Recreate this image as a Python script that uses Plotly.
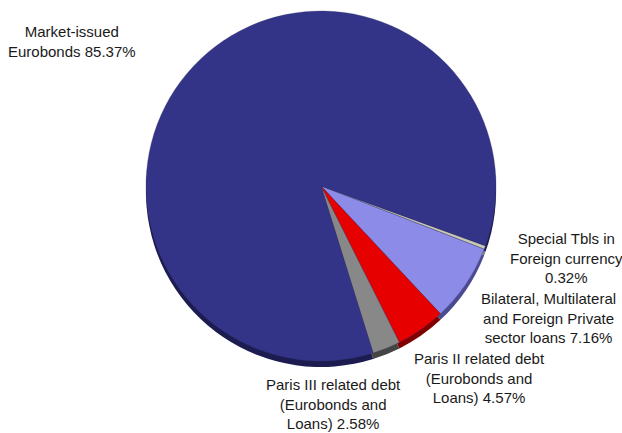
import plotly.graph_objects as go

labels = ["Special Tbls in Foreign currency",
          "Bilateral, Multilateral and Foreign Private sector loans",
          "Paris II related debt (Eurobonds and Loans)",
          "Paris III related debt (Eurobonds and Loans)",
          "Market-issued Eurobonds"]
values = [0.32, 7.16, 4.57, 2.58, 85.37]
colors = ["#c8c8b4", "#8c8ce8", "#e60000", "#888888", "#333388"]
shadow_colors = ["#808070", "#4a4a90", "#800000", "#444444", "#1c1c50"]

label_texts = ["Special Tbls in<br>Foreign currency<br>0.32%",
               "Bilateral, Multilateral<br>and Foreign Private<br>sector loans 7.16%",
               "Paris II related debt<br>(Eurobonds and<br>Loans) 4.57%",
               "Paris III related debt<br>(Eurobonds and<br>Loans) 2.58%",
               "Market-issued<br>Eurobonds 85.37%"]
label_pos = [(566, 258), (548, 318), (479, 378), (333, 404), (72, 42)]

W, H = 622, 433
cx, cy, r = 321, 186, 175
depth = 6

def dom(cx, cy):
    return dict(x=[(cx - r) / W, (cx + r) / W], y=[1 - (cy + r) / H, 1 - (cy - r) / H])

fig = go.Figure()
fig.add_trace(go.Pie(values=values, labels=labels, marker=dict(colors=shadow_colors, line=dict(width=0)),
                     sort=False, direction="clockwise", rotation=110, textinfo="none",
                     hoverinfo="skip", showlegend=False, domain=dom(cx, cy + depth)))
fig.add_trace(go.Pie(values=values, labels=labels, marker=dict(colors=colors, line=dict(width=0.3, color="#333366")),
                     sort=False, direction="clockwise", rotation=110, textinfo="none",
                     showlegend=False, domain=dom(cx, cy)))

for t, (x, y) in zip(label_texts, label_pos):
    fig.add_annotation(text=t, x=x / W, y=1 - y / H, xref="paper", yref="paper",
                       xanchor="center", yanchor="middle", align="center", showarrow=False,
                       font=dict(family="Liberation Sans, Arial", size=15, color="#1a1a1a"))

fig.update_layout(width=W, height=H, margin=dict(l=0, r=0, t=0, b=0),
                  paper_bgcolor="white", plot_bgcolor="white")
fig.write_html("out.html")
